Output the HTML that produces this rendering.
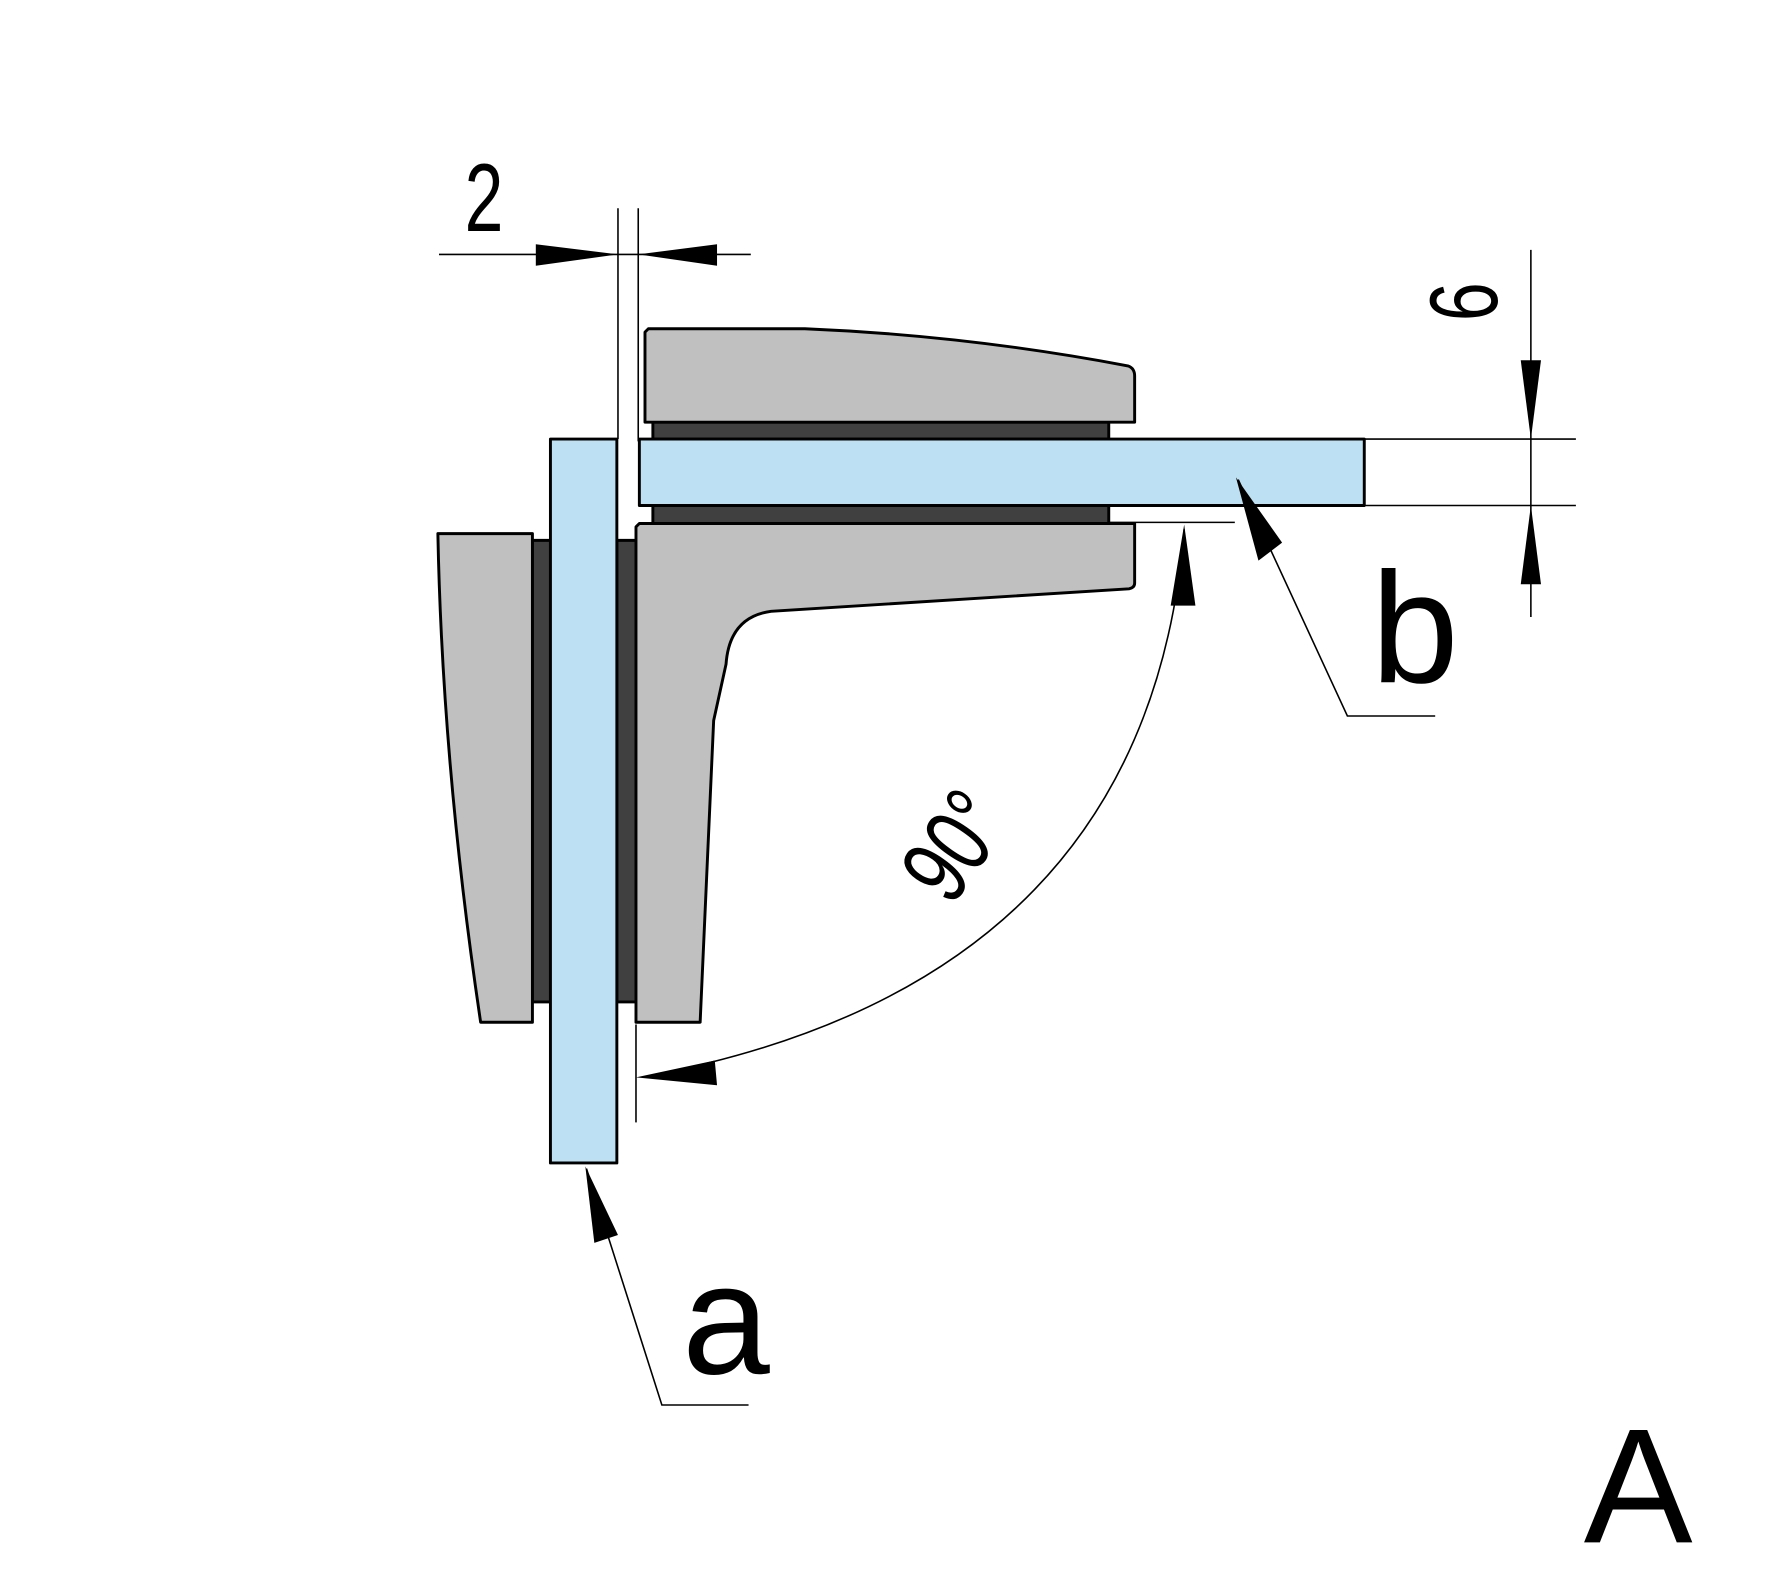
<!DOCTYPE html>
<html><head><meta charset="utf-8"><style>html,body{margin:0;padding:0;background:#fff}svg{display:block}</style></head>
<body>
<svg width="1765" height="1584" viewBox="0 0 1568 1407" preserveAspectRatio="none" xmlns="http://www.w3.org/2000/svg">
<g stroke="#000" stroke-width="2.6" stroke-linejoin="round">
<rect x="580" y="375" width="405" height="15" fill="#404040"/>
<rect x="580" y="449" width="405" height="16" fill="#404040"/>
<rect x="473" y="480" width="16" height="410" fill="#404040"/>
<rect x="548" y="480" width="17" height="410" fill="#404040"/>
<path d="M576,292 L715,292 Q860,298 1002,325 Q1008,327 1008,334 L1008,375 L573,375 L573,295 Z" fill="#c0c0c0"/>
<path d="M568,465 L1008,465 L1008,518 Q1008,522 1003,523 L685,543 Q648,548 645,590 L634,640 L622,908 L565,908 L565,468 Z" fill="#c0c0c0"/>
<path d="M389,474 L473,474 L473,908 L427,908 Q393,680 389,474 Z" fill="#c0c0c0"/>
<rect x="489" y="390" width="59" height="643" fill="#bde0f2"/>
<rect x="568" y="390" width="644" height="59" fill="#bde0f2"/>
</g>
<g stroke="#000" stroke-width="1.4" fill="none">
<line x1="549" y1="185" x2="549" y2="390"/>
<line x1="567" y1="185" x2="567" y2="392"/>
<line x1="390" y1="226" x2="667" y2="226"/>
<line x1="1360" y1="222" x2="1360" y2="548"/>
<line x1="1212" y1="390" x2="1400" y2="390"/>
<line x1="1212" y1="449" x2="1400" y2="449"/>
<line x1="985" y1="464" x2="1097" y2="464"/>
<line x1="565" y1="910" x2="565" y2="997"/>
<path d="M1052,470 Q1020,870 580,955"/>
<polyline points="1100,426 1197,636 1275,636"/>
<polyline points="521,1038 588,1248 665,1248"/>
</g>
<g fill="#000">
<polygon points="476,217 549,226 476,236"/>
<polygon points="637,217 567,226 637,236"/>
<polygon points="1351,320 1360,390 1369,320"/>
<polygon points="1351,519 1360,449 1369,519"/>
<polygon points="1040,538 1052,466 1062,538"/>
<polygon points="635,942 565,957 637,964"/>
<polygon points="1118,498 1098,424 1139,482"/>
<polygon points="528,1104 520,1036 549,1097"/>
</g>
<g font-family="Liberation Sans, sans-serif" fill="#000">
<text transform="translate(430,205) scale(0.72,1)" font-size="86" text-anchor="middle">2</text>
<text transform="translate(1330,268) rotate(-90) scale(0.72,1)" font-size="86" text-anchor="middle">6</text>
<text transform="translate(872,768) rotate(-55) scale(0.72,1)" font-size="86" text-anchor="middle">90°</text>
<text x="1218" y="606" font-size="140">b</text>
<text x="606" y="1220" font-size="140">a</text>
<text x="1407" y="1370" font-size="145">A</text>
</g>
</svg>
</body></html>
